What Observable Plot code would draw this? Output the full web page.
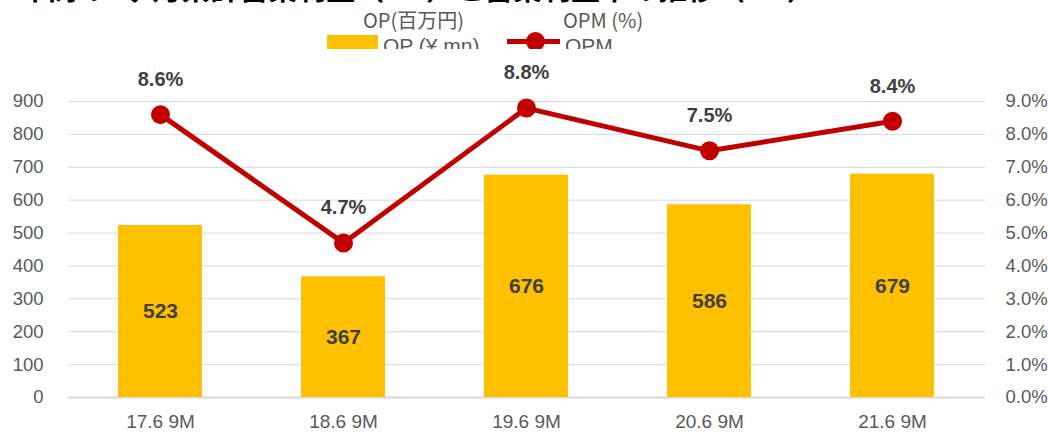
<!DOCTYPE html>
<html><head><meta charset="utf-8">
<script src="https://cdn.jsdelivr.net/npm/d3@7"></script>
<script src="https://cdn.jsdelivr.net/npm/@observablehq/plot@0.6"></script>
<style>
body{margin:0;background:#fff;}
#wrap{position:relative;width:1048px;height:432px;overflow:hidden;font-family:"Liberation Sans",sans-serif;}
#title{position:absolute;left:2px;top:-34px;font:bold 29px "Noto Sans CJK JP";color:#000;white-space:nowrap;}
.jp{position:absolute;font:20px "Noto Sans CJK JP";color:#595959;white-space:nowrap;line-height:24px;}
#leg{position:absolute;left:0;top:0;width:1048px;height:49px;overflow:hidden;}
.lt{position:absolute;font:21px "Liberation Sans";color:#595959;white-space:nowrap;line-height:24px;}
</style></head><body>
<div id="wrap">
<div id="chart"></div>
<div id="title">5年間の9ヶ月累計営業利益（OP）と営業利益率の推移（9M）</div>
<div id="leg">
 <div style="position:absolute;left:327px;top:35px;width:51px;height:14px;background:#FFC000"></div>
 <div class="lt" style="left:383px;top:34px;">OP (¥ mn)</div>
 <div style="position:absolute;left:507px;top:39px;width:53px;height:5px;background:#C00000"></div>
 <div style="position:absolute;left:526px;top:32px;width:19px;height:19px;border-radius:50%;background:#C00000"></div>
 <div class="lt" style="left:565px;top:34px;">OPM</div>
</div>
<div class="jp" style="left:363px;top:8px;">OP(百万円)</div>
<div class="jp" style="left:563px;top:8px;">OPM (%)</div>
</div>
<script>
const periods = ["17.6 9M","18.6 9M","19.6 9M","20.6 9M","21.6 9M"];
const op = [523,367,676,586,679];
const opm = [8.6,4.7,8.8,7.5,8.4];
const leftTicks = [0,100,200,300,400,500,600,700,800,900];
const rightTicks = [0,1,2,3,4,5,6,7,8,9];

const barData = periods.map((p,i)=>({p, v: op[i]}));
const lineData = periods.map((p,i)=>({p, m: opm[i], y: opm[i]*100}));

const chart = Plot.plot({
  width:1048, height:432,
  marginTop:101, marginBottom:35, marginLeft:68, marginRight:63,
  style:{fontFamily:"Liberation Sans", fontSize:"18.5px", color:"#595959", background:"#fff"},
  x:{domain:periods, paddingInner:0.54, paddingOuter:0.27, label:null},
  y:{domain:[0,900], label:null},
  marks:[
    Plot.gridY(leftTicks,{stroke:"#d9d9d9", strokeOpacity:1, strokeWidth:1}),
    Plot.ruleY([0],{stroke:"#d9d9d9", strokeWidth:2}),
    Plot.axisY(leftTicks,{anchor:"left", tickSize:0, tickPadding:25, label:null, fill:"#595959"}),
    Plot.axisY(rightTicks.map(d=>d*100),{anchor:"right", tickSize:0, tickPadding:20, label:null, tickFormat:d=>(d/100).toFixed(1)+"%", textAnchor:"start", fill:"#595959"}),
    Plot.axisX({tickSize:0, tickPadding:17, label:null, fill:"#595959", fontSize:19}),
    Plot.barY(barData,{x:"p", y:"v", fill:"#FFC000"}),
    Plot.text(barData,{x:"p", y:d=>d.v/2, text:d=>String(d.v), fill:"#404040", fontWeight:"bold", fontSize:21}),
    Plot.line(lineData,{x:"p", y:"y", stroke:"#C00000", strokeWidth:5}),
    Plot.dot(lineData,{x:"p", y:"y", r:9.5, fill:"#C00000", stroke:"none"}),
    Plot.text(lineData,{x:"p", y:"y", dy:-35, text:d=>d.m.toFixed(1)+"%", fill:"#404040", fontWeight:"bold", fontSize:20})
  ]
});
document.getElementById("chart").append(chart);
</script>
</body></html>
